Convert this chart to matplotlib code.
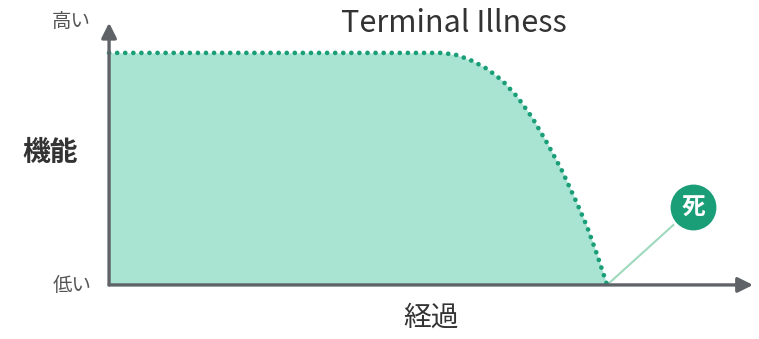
import matplotlib
matplotlib.use("Agg")
import matplotlib.pyplot as plt

plt.rcParams["font.family"] = ["Noto Sans CJK JP", "DejaVu Sans"]

# curve: time (0 = start, 100 = death) vs function (0..1)
time = [0, 60, 67, 70, 73, 76, 79, 82, 85, 88, 91, 94, 96, 98, 100]
function = [1, 1, 1, 0.99, 0.965, 0.93, 0.88, 0.81, 0.72, 0.61, 0.49, 0.35,
            0.25, 0.13, 0]

title = "Terminal Illness"
y_label = "機能"
x_label = "経過"
y_high = "高い"
y_low = "低い"
death_label = "死"
death_pos = (117.3, 0.336)

fill_color = "#a8e4d1"
dot_color = "#1a9e78"
axis_color = "#5f6368"

fig = plt.figure(figsize=(7.59, 3.39), dpi=100)
ax = fig.add_axes([0, 0, 1, 1])
ax.set_xlim(-21.9, 130.5)
ax.set_ylim(-0.233, 1.228)
ax.axis("off")

ax.fill_between(time, function, 0, color=fill_color, lw=0, zorder=1)
line, = ax.plot(time, function, color=dot_color, lw=3.4, zorder=3,
                dash_capstyle="round")
line.set_dashes((0.01, 1.7))

# axes with arrow heads
arrow = dict(arrowstyle="-|>,head_length=0.9,head_width=0.45", color=axis_color,
             lw=2.4, shrinkA=0, shrinkB=0)
ax.annotate("", xy=(0, 1.13), xytext=(0, 0), arrowprops=arrow, zorder=4)
ax.annotate("", xy=(129.3, 0), xytext=(0, 0), arrowprops=arrow, zorder=4)

# death marker
ax.plot([100, death_pos[0]], [0, death_pos[1]], color="#9fd9bd", lw=1.5, zorder=2)
ax.plot(*death_pos, "o", ms=35, color=dot_color, mec="white", mew=2, zorder=5)
ax.text(*death_pos, death_label, color="white", fontsize=17, fontweight="bold",
        ha="center", va="center", zorder=6)

ax.text(69.2, 1.125, title, fontsize=22, color="#333333", ha="center", va="center")
ax.text(-7.6, 1.134, y_high, fontsize=14, color="#555555", ha="center", va="center")
ax.text(-7.4, -0.004, y_low, fontsize=14, color="#555555", ha="center", va="center")
ax.text(-11.8, 0.569, y_label, fontsize=20, fontweight="bold", color="#333333",
        ha="center", va="center")
ax.text(64.7, -0.142, x_label, fontsize=20, color="#333333", ha="center", va="center")

fig.savefig("out.png", dpi=100)
